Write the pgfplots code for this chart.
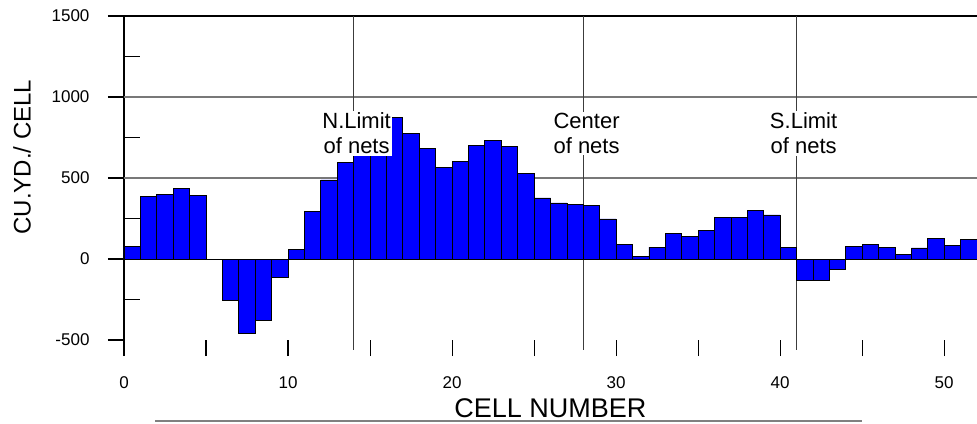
\documentclass[border=0pt]{standalone}
\usepackage{fontspec}
\setmainfont{Liberation Sans}
\usepackage{pgfplots}
\pgfplotsset{compat=1.18}

\definecolor{barblue}{RGB}{0,0,255}
\definecolor{gridgray}{RGB}{120,120,120}
\definecolor{netline}{RGB}{60,60,60}

\newcommand{\ticksize}{\fontsize{17}{17}\selectfont}

% Volume per cell; last row closes the final interval
\pgfplotstableread{
cell vol
0 75
1 385
2 398
3 436
4 393
5 0
6 -253
7 -461
8 -381
9 -111
10 60
11 292
12 488
13 597
14 690
15 690
16 875
17 776
18 681
19 564
20 601
21 702
22 730
23 693
24 529
25 377
26 346
27 337
28 333
29 247
30 88
31 18
32 74
33 158
34 138
35 175
36 257
37 257
38 302
39 272
40 74
41 -134
42 -134
43 -64
44 76
45 90
46 72
47 29
48 68
49 127
50 86
51 123
52 200
53 200
}\cells

\begin{document}
\begin{tikzpicture}
\useasboundingbox (-124pt,-83pt) rectangle (853pt,340pt);
\begin{axis}[
  at={(0pt,0pt)}, anchor=south west,
  scale only axis, width=853pt, height=324pt,
  xmin=0, xmax=52, ymin=-500, ymax=1500,
  clip mode=individual,
  separate axis lines,
  axis x line*=bottom, axis y line*=left,
  x axis line style={draw=none},
  y axis line style={line width=1.1pt, black},
  xtick={0,10,...,50},
  extra x ticks={5,15,...,45},
  extra x tick labels={},
  ytick={-500,0,500,1000,1500},
  extra y ticks={-250,250,750,1250},
  extra y tick labels={},
  extra y tick style={tick align=inside},
  tick align=outside,
  major tick length=16pt,
  xtick style={draw=black, line width=1.1pt},
  ytick style={draw=black, line width=1.1pt},
  xticklabel={\ticksize\pgfmathprintnumber[assume math mode=true]{\tick}},
  yticklabel={\ticksize\pgfmathprintnumber[assume math mode=true,1000 sep={}]{\tick}},
  xticklabel style={yshift=-17pt},
  yticklabel style={xshift=-15pt},
  xlabel={CELL NUMBER},
  ylabel={CU.YD./ CELL},
  xlabel style={at={(axis description cs:0.5,0)}, anchor=base, yshift=-77pt,
    font=\fontsize{27}{27}\selectfont},
  ylabel style={at={(axis description cs:-0.1196,0.5648)}, anchor=center,
    font=\fontsize{24}{24}\selectfont},
]
% horizontal reference lines
\draw[gridgray, line width=1.2pt] (axis cs:0,500) -- (axis cs:52,500);
\draw[gridgray, line width=1.2pt] (axis cs:0,1000) -- (axis cs:52,1000);
\draw[black, line width=1.1pt] (axis cs:0,1500) -- (axis cs:52,1500);
% net positions
\draw[netline, line width=1.1pt] (axis cs:14,1500) -- (axis cs:14,-560);
\draw[netline, line width=1.1pt] (axis cs:28,1500) -- (axis cs:28,-560);
\draw[netline, line width=1.1pt] (axis cs:41,1500) -- (axis cs:41,-560);

\addplot[ybar interval, fill=barblue, draw=black, line width=0.8pt]
  table[x=cell, y=vol] {\cells};

\draw[black, line width=1pt] (axis cs:0,0) -- (axis cs:52,0);

\tikzset{netlabel/.style={fill=white, inner sep=1.5pt, align=center,
  font=\fontsize{22}{25}\selectfont}}
\node[netlabel] at (axis cs:14.18,775) {N.Limit\\of nets};
\node[netlabel] at (axis cs:28.2,775) {Center\\of nets};
\node[netlabel] at (axis cs:41.43,775) {S.Limit\\of nets};
\end{axis}
\draw[gray, line width=1.5pt] (31pt,-81pt) -- (738pt,-81pt);
\end{tikzpicture}
\end{document}
